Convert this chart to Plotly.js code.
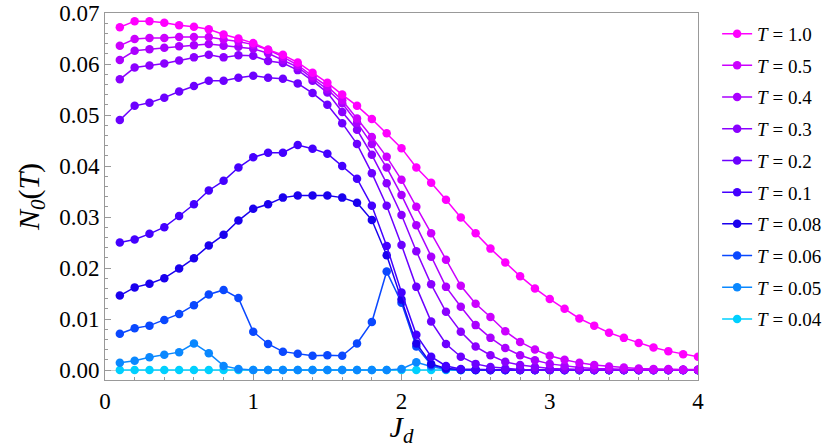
<!DOCTYPE html>
<html>
<head>
<meta charset="utf-8">
<script src="https://cdn.plot.ly/plotly-3.0.1.min.js"></script>
<style>html,body{margin:0;padding:0;background:#fff;}#chart{width:830px;height:448px;}</style>
</head>
<body>
<div id="chart"></div>
<script>
// J_d values (x axis)
const jd = [0.1,0.2,0.3,0.4,0.5,0.6,0.7,0.8,0.9,1.0,1.1,1.2,1.3,1.4,1.5,1.6,1.7,1.8,1.9,2.0,
            2.1,2.2,2.3,2.4,2.5,2.6,2.7,2.8,2.9,3.0,3.1,3.2,3.3,3.4,3.5,3.6,3.7,3.8,3.9,4.0];

// Series labels (legend order, top to bottom)
const tLabels = ["1.0","0.5","0.4","0.3","0.2","0.1","0.08","0.06","0.05","0.04"];

// N0(T) values for each temperature
const nT10 = [0.0672,0.0684,0.0684,0.0681,0.0676,0.0673,0.0668,0.0658,0.0650,0.0641,0.0628,0.0618,0.0603,0.0583,0.0563,0.0540,0.0518,0.0492,0.0464,0.0435,
              0.0397,0.0367,0.0334,0.0299,0.0268,0.0238,0.0211,0.0184,0.0160,0.0139,0.0120,0.0101,0.0087,0.0073,0.0063,0.0053,0.0044,0.0037,0.0031,0.0026];
const nT05 = [0.0636,0.0649,0.0651,0.0651,0.0653,0.0653,0.0653,0.0648,0.0644,0.0638,0.0628,0.0614,0.0598,0.0576,0.0556,0.0529,0.0493,0.0457,0.0418,0.0373,
              0.0320,0.0268,0.0216,0.0165,0.0130,0.0104,0.0076,0.0055,0.0040,0.0028,0.0020,0.0014,0.0010,0.0007,0.0005,0.0003,0.0002,0.0002,0.0001,0.0001];
const nT04 = [0.0608,0.0626,0.0629,0.0632,0.0635,0.0637,0.0639,0.0636,0.0634,0.0630,0.0621,0.0608,0.0594,0.0572,0.0550,0.0523,0.0485,0.0443,0.0397,0.0343,
              0.0284,0.0222,0.0163,0.0124,0.0088,0.0063,0.0043,0.0029,0.0019,0.0012,0.0008,0.0005,0.0003,0.0002,0.0001,0.0001,0.0000,0.0000,0.0000,0.0000];
const nT03 = [0.0570,0.0593,0.0597,0.0601,0.0607,0.0613,0.0618,0.0613,0.0617,0.0616,0.0606,0.0602,0.0588,0.0567,0.0544,0.0506,0.0471,0.0422,0.0366,0.0304,
              0.0233,0.0168,0.0114,0.0075,0.0046,0.0029,0.0016,0.0010,0.0006,0.0003,0.0002,0.0001,0.0000,0.0000,0.0000,0.0000,0.0000,0.0000,0.0000,0.0000];
const nT02 = [0.0490,0.0518,0.0524,0.0534,0.0546,0.0557,0.0567,0.0567,0.0573,0.0577,0.0573,0.0571,0.0562,0.0543,0.0520,0.0484,0.0443,0.0386,0.0322,0.0245,
              0.0163,0.0095,0.0051,0.0026,0.0012,0.0006,0.0003,0.0001,0.0000,0.0000,0.0000,0.0000,0.0000,0.0000,0.0000,0.0000,0.0000,0.0000,0.0000,0.0000];
const nT01 = [0.0250,0.0256,0.0267,0.0280,0.0302,0.0325,0.0352,0.0371,0.0397,0.0417,0.0426,0.0426,0.0441,0.0434,0.0424,0.0400,0.0375,0.0322,0.0243,0.0152,
              0.0069,0.0026,0.0008,0.0002,0.0001,0.0000,0.0000,0.0000,0.0000,0.0000,0.0000,0.0000,0.0000,0.0000,0.0000,0.0000,0.0000,0.0000,0.0000,0.0000];
const nT008 = [0.0146,0.0162,0.0169,0.0180,0.0199,0.0219,0.0244,0.0265,0.0293,0.0316,0.0325,0.0338,0.0342,0.0342,0.0342,0.0338,0.0328,0.0294,0.0225,0.0138,
               0.0052,0.0012,0.0003,0.0001,0.0000,0.0000,0.0000,0.0000,0.0000,0.0000,0.0000,0.0000,0.0000,0.0000,0.0000,0.0000,0.0000,0.0000,0.0000,0.0000];
const nT006 = [0.0071,0.0082,0.0087,0.0098,0.0110,0.0127,0.0148,0.0157,0.0141,0.0075,0.0051,0.0036,0.0032,0.0028,0.0029,0.0028,0.0052,0.0094,0.0193,0.0132,
               0.0046,0.0010,0.0002,0.0000,0.0000,0.0000,0.0000,0.0000,0.0000,0.0000,0.0000,0.0000,0.0000,0.0000,0.0000,0.0000,0.0000,0.0000,0.0000,0.0000];
const nT005 = [0.0014,0.0018,0.0025,0.0030,0.0035,0.0052,0.0033,0.0008,0.0002,0.0000,0.0000,0.0000,0.0000,0.0000,0.0000,0.0000,0.0000,0.0000,0.0000,0.0002,
               0.0015,0.0007,0.0001,0.0000,0.0000,0.0000,0.0000,0.0000,0.0000,0.0000,0.0000,0.0000,0.0000,0.0000,0.0000,0.0000,0.0000,0.0000,0.0000,0.0000];
const nT004 = [0.0000,0.0000,0.0000,0.0000,0.0000,0.0000,0.0000,0.0000,0.0000,0.0000,0.0000,0.0000,0.0000,0.0000,0.0000,0.0000,0.0000,0.0000,0.0000,0.0000,
               0.0000,0.0000,0.0000,0.0000,0.0000,0.0000,0.0000,0.0000,0.0000,0.0000,0.0000,0.0000,0.0000,0.0000,0.0000,0.0000,0.0000,0.0000,0.0000,0.0000];

const seriesValues = [nT10, nT05, nT04, nT03, nT02, nT01, nT008, nT006, nT005, nT004];
const seriesColors = ["#ff00ff","#cc00ff","#aa00ff","#8a00ff","#6c00ff","#4400ff","#1a00ee","#0a48ff","#0a88ff","#00d0ff"];

const serif = "Liberation Serif, Times New Roman, serif";
const traces = [];
// draw low temperatures first so high temperatures sit on top
for (let i = seriesValues.length - 1; i >= 0; i--) {
  traces.push({
    type: "scatter",
    mode: "lines+markers",
    x: jd,
    y: seriesValues[i],
    name: "<i>T</i> = " + tLabels[i],
    legendgroup: "g" + i,
    legendrank: i + 1,
    line: {color: seriesColors[i], width: 1.5},
    marker: {color: seriesColors[i], size: 8.5, line: {width: 0}},
    hoverinfo: "x+y+name"
  });
}

const axisCommon = {
  showline: true, linecolor: "#999", linewidth: 1, mirror: true,
  ticks: "inside", tickcolor: "#999", ticklen: 6, tickwidth: 1,
  showgrid: false,
  tickfont: {family: serif, size: 23, color: "#000"}
};

const layout = {
  width: 830, height: 448,
  margin: {l: 105, r: 132, t: 13, b: 68, autoexpand: false},
  paper_bgcolor: "#fff", plot_bgcolor: "#fff",
  showlegend: true,
  legend: {
    xref: "container", yref: "container",
    x: 0.864, xanchor: "left", y: 0.967, yanchor: "top",
    maxheight: 440,
    traceorder: "grouped", tracegroupgap: 4,
    font: {family: serif, size: 19, color: "#000"},
    bgcolor: "rgba(0,0,0,0)", borderwidth: 0
  },
  xaxis: Object.assign({}, axisCommon, {
    range: [0, 4], dtick: 1, tick0: 0, zeroline: false,
    minor: {dtick: 0.2, ticks: "inside", ticklen: 3, tickcolor: "#999"},
    title: {text: "<i>J</i><sub><i>d</i></sub>", font: {family: serif, size: 30, color: "#000"}, standoff: 6}
  }),
  yaxis: Object.assign({}, axisCommon, {
    range: [-0.00196, 0.07], dtick: 0.01, tick0: 0, tickformat: ".2f",
    zeroline: true, zerolinecolor: "#cccccc", zerolinewidth: 1,
    minor: {dtick: 0.002, ticks: "inside", ticklen: 3, tickcolor: "#999"},
    title: {text: "<i>N</i><sub><i>0</i></sub>(<i>T</i>)", font: {family: serif, size: 30, color: "#000"}, standoff: 10}
  })
};

Plotly.newPlot("chart", traces, layout, {displayModeBar: false, staticPlot: true});
</script>
</body>
</html>
